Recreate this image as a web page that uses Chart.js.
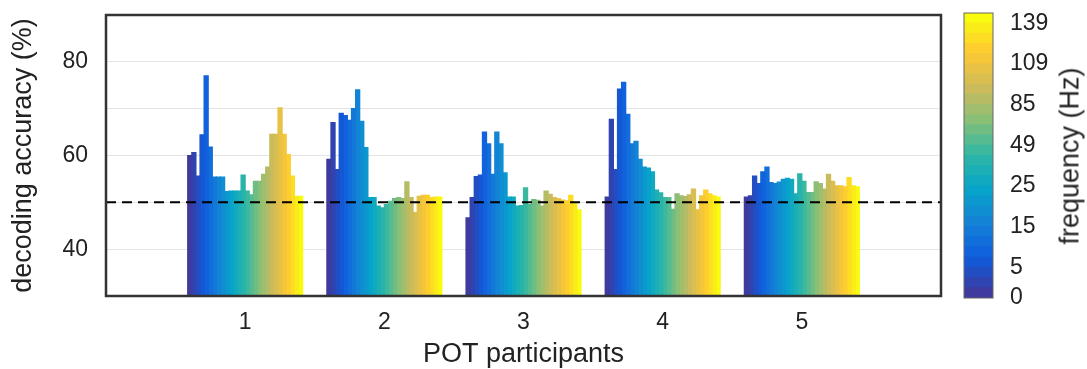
<!DOCTYPE html>
<html lang="en">
<head>
  <meta charset="UTF-8">
  <title>Decoding accuracy per frequency bin</title>
  <script src="https://cdn.jsdelivr.net/npm/chart.js"></script>
  <style>
    html, body { margin: 0; padding: 0; background: #fff; }
    body {
      width: 1087px; height: 369px; position: relative; overflow: hidden;
      font-family: 'Liberation Sans', Arial, Helvetica, sans-serif;
    }
    #mainWrap { position: absolute; left: 0; top: 0; width: 955px; height: 369px; }
    #barWrap { position: absolute; left: 955px; top: 0; width: 132px; height: 369px; }
    #cbTitle {
      position: absolute; left: 1070px; top: 156px;
      transform: translate(-50%, -50%) rotate(-90deg);
      white-space: nowrap; font-size: 27px; line-height: 1; color: #222;
    }
  </style>
</head>
<body>
  <div id="mainWrap"><canvas id="accChart" width="955" height="369"></canvas></div>
  <div id="barWrap"><canvas id="cbChart" width="132" height="369"></canvas></div>
  <div id="cbTitle">frequency (Hz)</div>

  <script>
    // participants on the x axis
    const participants = ['1', '2', '3', '4', '5'];

    // decoding accuracy (%) per frequency bin, one array per participant
    const p1 = [60, 60.6, 55.6, 64.4, 77, 61.8, 55.4, 55.4, 55.4, 52.3, 52.4, 52.4, 52.4, 55.8,
                52.4, 51.6, 54.5, 54.5, 56, 57.5, 64.5, 64.5, 70.2, 64.5, 60.2, 55.6, 51.3, 51.3];
    const p2 = [59.2, 67, 57, 69, 68.5, 67.5, 70, 74, 67.3, 61.7, 51, 51, 49.2, 48.8,
                49.5, 50.2, 50.8, 51, 50.8, 54.4, 51, 47.8, 51.3, 51.5, 51.5, 51, 51.1, 51.1];
    const p3 = [46.7, 51, 55.5, 55.8, 65, 62.5, 56, 65, 62.5, 56.3, 51.1, 51.1, 49.2, 49.3,
                53.1, 49.5, 50.6, 50.4, 49.2, 52.4, 51.7, 51, 50.8, 50.5, 50.3, 51.5, 49.8, 48.4];
    const p4 = [51.1, 67.7, 57, 74.2, 75.6, 68.8, 62.5, 63, 59.2, 57.5, 57.3, 56.5, 52.6, 52,
                51, 51, 48.5, 51.8, 51.4, 51.2, 51.6, 52.8, 48.4, 51.4, 52.6, 51.8, 51.4, 51.1];
    const p5 = [51.1, 51.4, 55.6, 54, 56.5, 57.5, 54.2, 54, 54.3, 54.9, 55.1, 54.9, 51.8, 56.1,
                54.5, 52.1, 52.1, 54.4, 54, 52.8, 56, 54.5, 53.5, 53.5, 53.3, 55.3, 53.5, 53.3];

    const chanceLevel = 50;
    const yTickLabels = [40, 60, 80];

    // colorbar tick labels (Hz) and the bin they sit on
    const cbTickLabels = ['0', '5', '15', '25', '49', '85', '109', '139'];
    const cbTickBins = [0, 3, 7, 11, 15, 19, 23, 27];

    const allParticipants = [p1, p2, p3, p4, p5];
    const nBins = p1.length;

    // parula-like colormap
    const parulaStops = ['#3e3a9e', '#0f5cdd', '#1481d6', '#06a4ca', '#2eb7a4',
                         '#87bf77', '#d1bb59', '#fec832', '#f9fb0e'];

    function hexToRgb(h) {
      return [1, 3, 5].map(i => parseInt(h.substr(i, 2), 16));
    }

    function parula(t) {
      const n = parulaStops.length - 1;
      const pos = Math.min(Math.max(t, 0), 1) * n;
      const i = Math.min(Math.floor(pos), n - 1);
      const f = pos - i;
      const a = hexToRgb(parulaStops[i]);
      const b = hexToRgb(parulaStops[i + 1]);
      const c = a.map((v, k) => Math.round(v + (b[k] - v) * f));
      return `rgb(${c[0]}, ${c[1]}, ${c[2]})`;
    }

    const binColors = [];
    for (let i = 0; i < nBins; i++) binColors.push(parula(i / (nBins - 1)));

    // box around the plot area
    const framePlugin = {
      id: 'frame',
      afterDatasetsDraw(chart, args, opts) {
        const { ctx, chartArea: a } = chart;
        ctx.save();
        ctx.strokeStyle = opts.color || '#333';
        ctx.lineWidth = opts.width || 2;
        ctx.strokeRect(a.left, a.top, a.right - a.left, a.bottom - a.top);
        ctx.restore();
      }
    };

    // no extra room for half-height tick labels at the axis ends
    function fitY(width) {
      return s => { s.width = width; s.paddingTop = 0; s.paddingBottom = 0; };
    }

    const tickFont = { family: "'Liberation Sans', Arial, sans-serif", size: 23 };
    const titleFont = { family: "'Liberation Sans', Arial, sans-serif", size: 27, lineHeight: 1 };
    const textColor = '#222';

    // x labels padded with empty slots so the axis runs 0..6
    const xLabels = ['', ...participants, ''];

    const barSets = [];
    for (let i = 0; i < nBins; i++) {
      barSets.push({
        type: 'bar',
        data: [null, ...allParticipants.map(p => p[i]), null],
        backgroundColor: binColors[i],
        borderWidth: 0,
        inflateAmount: 0.6,
        barPercentage: 1,
        categoryPercentage: 0.826,
        order: 1
      });
    }

    const chanceSet = {
      type: 'line',
      data: xLabels.map(() => chanceLevel),
      borderColor: '#000',
      borderWidth: 2,
      borderDash: [10, 6],
      pointRadius: 0,
      fill: false,
      order: 0
    };

    new Chart(document.getElementById('accChart'), {
      type: 'bar',
      data: { labels: xLabels, datasets: [...barSets, chanceSet] },
      options: {
        responsive: false,
        animation: false,
        devicePixelRatio: 1,
        layout: { padding: { top: 15, right: 14, left: 0, bottom: 0 } },
        plugins: {
          legend: { display: false },
          tooltip: { enabled: false },
          frame: { color: '#333', width: 2.5 }
        },
        scales: {
          x: {
            type: 'category',
            offset: false,
            grid: { display: false },
            border: { display: false },
            ticks: { font: tickFont, color: textColor, padding: 5, autoSkip: false, maxRotation: 0 },
            title: { display: true, text: 'POT participants', font: titleFont, color: textColor, padding: { top: 0, bottom: 1 } },
            afterFit: s => { s.height = 73; s.paddingLeft = 0; s.paddingRight = 0; }
          },
          y: {
            min: 30,
            max: 90,
            grid: { color: '#e4e4e4', lineWidth: 1, drawTicks: false },
            border: { display: false },
            ticks: {
              stepSize: 10,
              font: tickFont,
              color: textColor,
              padding: 18,
              callback: v => yTickLabels.includes(v) ? String(v) : ''
            },
            title: { display: true, text: 'decoding accuracy (%)', font: titleFont, color: textColor, padding: { top: 10, bottom: 0 } },
            afterFit: fitY(106)
          }
        }
      },
      plugins: [framePlugin]
    });

    // colorbar: one stacked bar, one segment per frequency bin
    const cbSets = binColors.map(c => ({
      data: [1],
      backgroundColor: c,
      borderWidth: 0,
      inflateAmount: 0.6,
      barPercentage: 1,
      categoryPercentage: 1
    }));

    new Chart(document.getElementById('cbChart'), {
      type: 'bar',
      data: { labels: [''], datasets: cbSets },
      options: {
        responsive: false,
        animation: false,
        devicePixelRatio: 1,
        layout: { padding: { left: 9, top: 13, bottom: 71, right: 0 } },
        plugins: {
          legend: { display: false },
          tooltip: { enabled: false },
          frame: { color: '#666', width: 1 }
        },
        scales: {
          x: { stacked: true, display: false },
          y: {
            stacked: true,
            position: 'right',
            min: 0,
            max: nBins,
            grid: { display: false },
            border: { display: false },
            afterBuildTicks: s => { s.ticks = cbTickBins.map(v => ({ value: v })); },
            ticks: {
              font: tickFont,
              color: textColor,
              padding: 9,
              autoSkip: false,
              callback: v => cbTickLabels[cbTickBins.indexOf(v)]
            },
            afterFit: fitY(94)
          }
        }
      },
      plugins: [framePlugin]
    });
  </script>
</body>
</html>
